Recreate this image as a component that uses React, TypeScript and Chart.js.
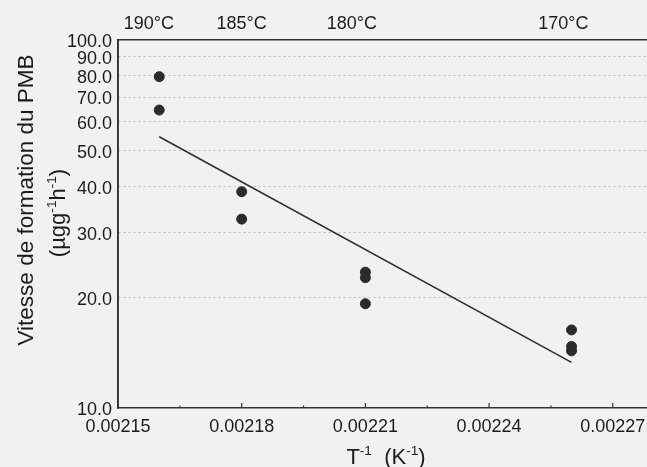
import React, { useEffect, useRef } from "react";
import { Chart, registerables } from "chart.js";

Chart.register(...registerables);

// ---- data ----
const tempLabels = ["190°C", "185°C", "180°C", "170°C"];
const tempTickPositions = [0.0021575, 0.00218, 0.0022067, 0.002258];
const xTickValues = [0.00215, 0.00218, 0.00221, 0.00224, 0.00227];
const yTickValues = [10, 20, 30, 40, 50, 60, 70, 80, 90, 100];
const invT = [0.00216, 0.00216, 0.00218, 0.00218, 0.00221, 0.00221, 0.00221, 0.00226, 0.00226, 0.00226];
const rate = [79.5, 64.5, 38.7, 32.6, 23.4, 22.6, 19.2, 16.3, 14.7, 14.3];
const fitX = [0.00216, 0.00226];
const fitY = [54.6, 13.3];

const FONT = "'Liberation Sans', Arial, sans-serif";
const INK = "#1c1c1c";
const BG = "#f1f1f1";

type Seg = { t: string; sup?: boolean };

function drawRich(ctx: CanvasRenderingContext2D, segs: Seg[], cx: number, baseline: number, size: number) {
  const supSize = size * 0.62;
  let total = 0;
  const widths = segs.map((s) => {
    ctx.font = `${s.sup ? supSize : size}px ${FONT}`;
    const w = ctx.measureText(s.t).width;
    total += w;
    return w;
  });
  let x = cx - total / 2;
  segs.forEach((s, i) => {
    ctx.font = `${s.sup ? supSize : size}px ${FONT}`;
    ctx.fillText(s.t, x, s.sup ? baseline - size * 0.42 : baseline);
    x += widths[i];
  });
}

const overlayPlugin = {
  id: "overlay",
  beforeDraw(chart: any) {
    const ctx = chart.ctx;
    ctx.save();
    ctx.fillStyle = BG;
    ctx.fillRect(0, 0, chart.width, chart.height);
    ctx.restore();
  },
  afterDraw(chart: any) {
    const ctx: CanvasRenderingContext2D = chart.ctx;
    const xs = chart.scales.x;
    const area = chart.chartArea;
    ctx.save();
    ctx.strokeStyle = "#333";
    ctx.lineWidth = 1.2;
    ctx.setLineDash([]);
    // inner tick marks on the bottom axis
    for (let i = 0; i < xTickValues.length; i++) {
      const px = xs.getPixelForValue(xTickValues[i]);
      ctx.beginPath();
      ctx.moveTo(px, area.bottom);
      ctx.lineTo(px, area.bottom - 5);
      ctx.stroke();
      if (i < xTickValues.length - 1) {
        const mx = xs.getPixelForValue((xTickValues[i] + xTickValues[i + 1]) / 2);
        ctx.beginPath();
        ctx.moveTo(mx, area.bottom);
        ctx.lineTo(mx, area.bottom - 2.5);
        ctx.stroke();
      }
    }
    // solid left axis line (over dashed grid styling)
    ctx.lineWidth = 1.6;
    ctx.beginPath();
    ctx.moveTo(area.left, area.top);
    ctx.lineTo(area.left, area.bottom);
    ctx.stroke();
    ctx.fillStyle = INK;
    ctx.textAlign = "left";
    ctx.textBaseline = "alphabetic";
    // x title
    drawRich(ctx, [{ t: "T" }, { t: "-1", sup: true }, { t: "  (K" }, { t: "-1", sup: true }, { t: ")" }], 386, 464, 22);
    // y title, two lines
    ctx.save();
    ctx.translate(33, 200);
    ctx.rotate(-Math.PI / 2);
    drawRich(ctx, [{ t: "Vitesse de formation du PMB" }], 0, 0, 22.5);
    ctx.restore();
    ctx.save();
    ctx.translate(65, 213);
    ctx.rotate(-Math.PI / 2);
    drawRich(ctx, [{ t: "(µgg" }, { t: "-1", sup: true }, { t: "h" }, { t: "-1", sup: true }, { t: ")" }], 0, 0, 22);
    ctx.restore();
    ctx.restore();
  },
};

export default function App() {
  const ref = useRef<HTMLCanvasElement | null>(null);
  useEffect(() => {
    if (!ref.current) return;
    const points = invT.map((x, i) => ({ x, y: rate[i] }));
    const fit = fitX.map((x, i) => ({ x, y: fitY[i] }));
    const tickFont = { family: FONT, size: 18 };
    const chart = new Chart(ref.current, {
      type: "scatter",
      data: {
        datasets: [
          {
            data: points,
            pointRadius: 5,
            pointBackgroundColor: "#2b2b2b",
            pointBorderColor: "#2b2b2b",
            showLine: false,
          },
          {
            data: fit,
            showLine: true,
            pointRadius: 0,
            borderColor: "#2e2e2e",
            borderWidth: 1.6,
            fill: false,
          },
        ],
      },
      options: {
        animation: false,
        responsive: false,
        events: [],
        layout: { padding: { left: 0, right: 16, top: 0, bottom: 0 } },
        plugins: { legend: { display: false }, tooltip: { enabled: false }, title: { display: false } },
        scales: {
          x: {
            type: "linear",
            position: "bottom",
            min: 0.00215,
            max: 0.00228,
            afterBuildTicks: (s: any) => {
              s.ticks = xTickValues.map((v) => ({ value: v }));
            },
            afterFit: (s: any) => {
              s.height = 59;
            },
            grid: { display: false, drawTicks: false },
            border: { display: true, color: "#333", width: 1.6 },
            ticks: {
              autoSkip: false,
              maxRotation: 0,
              padding: 8,
              color: INK,
              font: tickFont,
              callback: (v: any) => Number(v).toFixed(5),
            },
          },
          x2: {
            type: "linear",
            position: "top",
            min: 0.00215,
            max: 0.00228,
            afterBuildTicks: (s: any) => {
              s.ticks = tempTickPositions.map((v) => ({ value: v }));
            },
            afterFit: (s: any) => {
              s.height = 40;
            },
            grid: { display: false, drawTicks: false },
            border: { display: true, color: "#333", width: 1.6 },
            ticks: {
              autoSkip: false,
              maxRotation: 0,
              padding: 5,
              color: INK,
              font: tickFont,
              callback: (_v: any, i: number) => tempLabels[i],
            },
          },
          y: {
            type: "logarithmic",
            min: 10,
            max: 100,
            afterBuildTicks: (s: any) => {
              s.ticks = yTickValues.map((v) => ({ value: v }));
            },
            afterFit: (s: any) => {
              s.width = 118;
            },
            grid: {
              drawTicks: false,
              color: (c: any) =>
                c.tick && (c.tick.value === 10 || c.tick.value === 100) ? "rgba(0,0,0,0)" : "rgba(0,0,0,0.22)",
              lineWidth: 1,
            },
            border: { display: true, color: "#333", width: 1.6, dash: [2, 3] },
            ticks: {
              autoSkip: false,
              padding: 6,
              labelOffset: 2.5,
              color: INK,
              font: tickFont,
              callback: (v: any) => Number(v).toFixed(1),
            },
          },
        },
      } as any,
      plugins: [overlayPlugin],
    });
    return () => chart.destroy();
  }, []);
  return (
    <div
      style={{
        position: "absolute",
        left: 0,
        top: 0,
        width: 647,
        height: 467,
        overflow: "hidden",
        background: BG,
      }}
    >
      <canvas ref={ref} width={670} height={467} style={{ width: 670, height: 467, display: "block" }} />
    </div>
  );
}
